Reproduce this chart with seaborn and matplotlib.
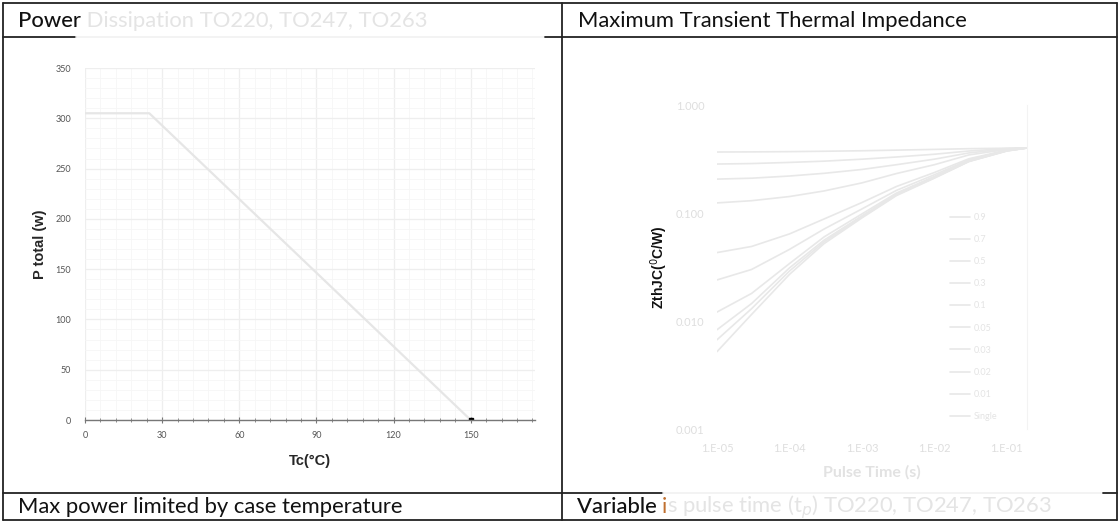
import numpy as np
import pandas as pd
import seaborn as sns
import matplotlib.pyplot as plt
from matplotlib.lines import Line2D
from matplotlib.ticker import MultipleLocator, FixedLocator

sns.set_style("white")
plt.rcParams['font.family'] = ['Lato', 'DejaVu Sans']

# --- left chart: power derating ---
tc = [0, 25, 150]
p_total = [305, 305, 0]
tc_ticks = [0, 30, 60, 90, 120, 150]
p_ticks = [0, 50, 100, 150, 200, 250, 300, 350]

# --- right chart: transient thermal impedance ---
pulse_t = [1e-5, 3e-5, 1e-4, 3e-4, 1e-3, 3e-3, 1e-2, 3e-2, 1e-1, 0.19]
duty = ["0.9", "0.7", "0.5", "0.3", "0.1", "0.05", "0.03", "0.02", "0.01", "Single"]
zth = [
    [0.367, 0.368, 0.370, 0.373, 0.377, 0.382, 0.388, 0.394, 0.398, 0.40],
    [0.284, 0.287, 0.294, 0.302, 0.315, 0.330, 0.350, 0.375, 0.395, 0.40],
    [0.206, 0.210, 0.220, 0.233, 0.253, 0.280, 0.315, 0.360, 0.392, 0.40],
    [0.124, 0.130, 0.142, 0.160, 0.190, 0.232, 0.280, 0.345, 0.388, 0.40],
    [0.043, 0.049, 0.064, 0.088, 0.125, 0.176, 0.237, 0.318, 0.382, 0.40],
    [0.024, 0.030, 0.046, 0.071, 0.109, 0.162, 0.226, 0.310, 0.380, 0.40],
    [0.0121, 0.018, 0.034, 0.060, 0.098, 0.153, 0.218, 0.305, 0.378, 0.40],
    [0.0083, 0.0145, 0.031, 0.056, 0.094, 0.149, 0.214, 0.302, 0.377, 0.40],
    [0.0067, 0.013, 0.029, 0.054, 0.092, 0.147, 0.212, 0.300, 0.376, 0.40],
    [0.0052, 0.0115, 0.027, 0.052, 0.090, 0.145, 0.210, 0.300, 0.375, 0.40],
]
zth_ticks = [0.001, 0.01, 0.1, 1.0]
zth_ticklabels = ["0.001", "0.010", "0.100", "1.000"]
t_ticks = [1e-5, 1e-4, 1e-3, 1e-2, 1e-1]
t_ticklabels = ["1.E-05", "1.E-04", "1.E-03", "1.E-02", "1.E-01"]

W, H = 1120, 523
fig = plt.figure(figsize=(W / 100, H / 100), dpi=100)
renderer = fig.canvas.get_renderer()


def fx(px):
    return px / W


def fy(py):
    return 1 - py / H


# table lines
def hline(y, x0, x1, color="#222222", lw=1.3):
    fig.add_artist(Line2D([fx(x0), fx(x1)], [fy(y), fy(y)], color=color, lw=lw))


def vline(x, y0, y1, color="#222222", lw=1.3):
    fig.add_artist(Line2D([fx(x), fx(x)], [fy(y0), fy(y1)], color=color, lw=lw))


hline(3, 3, 1117)
hline(520, 3, 1117)
vline(3, 3, 520)
vline(1117, 3, 520)
vline(562, 3, 520)
hline(37, 3, 76)
hline(37, 76, 545, color="#f2f2f2")
hline(37, 545, 562)
hline(37, 562, 1117)
hline(493, 3, 562)
hline(493, 562, 663)
hline(493, 663, 1103, color="#f2f2f2")
hline(493, 1103, 1117)


def run_text(x, y, parts, fs):
    # draw text pieces one after another on one baseline
    for s, color, weight in parts:
        t = fig.text(x, y, s, fontsize=fs, color=color, fontweight=weight, va="center")
        x = fig.transFigure.inverted().transform(
            (t.get_window_extent(renderer).x1, 0))[0]


faint = "#e4e4e4"
fs = 15.8
run_text(fx(18), fy(21), [("Power", "#111111", "medium"),
                          (" Dissipation TO220, TO247, TO263", faint, "normal")], fs)
fig.text(fx(578), fy(21), "Maximum Transient Thermal Impedance", fontsize=fs, color="#111111", va="center")
fig.text(fx(18), fy(507), "Max power limited by case temperature", fontsize=fs, color="#111111", va="center")
run_text(fx(577), fy(507), [("Variable ", "#111111", "medium"),
                            ("i", "#c07030", "normal"),
                            ("s pulse time (t$_p$) TO220, TO247, TO263", faint, "normal")], fs)

# ---------------- left chart ----------------
ax1 = fig.add_axes([fx(85), fy(420), fx(535) - fx(85), fy(68) - fy(420)])
sns.lineplot(x=tc, y=p_total, ax=ax1, color="#e6e6e6", lw=1.6)
ax1.plot([150], [0], marker="s", color="black", ms=3)
ax1.set_xlim(0, 175)
ax1.set_ylim(0, 350)
ax1.xaxis.set_major_locator(FixedLocator(tc_ticks))
ax1.yaxis.set_major_locator(FixedLocator(p_ticks))
ax1.xaxis.set_minor_locator(MultipleLocator(6))
ax1.yaxis.set_minor_locator(MultipleLocator(10))
ax1.grid(which="major", color="#eeeeee", lw=0.9)
ax1.grid(which="minor", color="#f6f6f6", lw=0.6)
ax1.set_axisbelow(True)
for s in ["top", "right", "left"]:
    ax1.spines[s].set_visible(False)
ax1.spines["bottom"].set_color("#777777")
ax1.spines["bottom"].set_linewidth(1.0)
ax1.tick_params(axis="x", which="both", direction="inout", length=4, color="#777777",
                labelsize=6.5, labelcolor="#555555", pad=6, bottom=True)
ax1.tick_params(axis="x", which="minor", length=3)
ax1.tick_params(axis="y", which="both", length=0, labelsize=6.5, labelcolor="#555555", pad=10)
ax1.set_xlabel("Tc(°C)", fontsize=10.5, fontweight="bold", family="Liberation Sans", labelpad=10)
ax1.set_ylabel("P total (w)", fontsize=10.5, fontweight="bold", family="Liberation Sans", labelpad=6)

# ---------------- right chart ----------------
rows = []
for d, vals in zip(duty, zth):
    for t, z in zip(pulse_t, vals):
        rows.append({"t": t, "zth": z, "D": d})
df = pd.DataFrame(rows)

ax2 = fig.add_axes([fx(717), fy(429), fx(1027) - fx(717), fy(105) - fy(429)])
sns.lineplot(data=df, x="t", y="zth", hue="D", hue_order=duty,
             palette={d: "#e8e8e8" for d in duty}, lw=1.2, ax=ax2)
ax2.set_xscale("log")
ax2.set_yscale("log")
ax2.set_xlim(1e-5, 0.19)
ax2.set_ylim(0.001, 1.0)
ax2.set_yticks(zth_ticks)
ax2.set_yticklabels(zth_ticklabels)
ax2.set_xticks(t_ticks)
ax2.set_xticklabels(t_ticklabels)
ax2.minorticks_off()
for s in ["top", "left", "bottom"]:
    ax2.spines[s].set_visible(False)
ax2.spines["right"].set_color("#f3f3f3")
ax2.tick_params(axis="both", length=0, labelsize=8, labelcolor="#dedede")
ax2.tick_params(axis="y", pad=9)
ax2.tick_params(axis="x", pad=10)
ax2.set_xlabel("Pulse Time (s)", fontsize=11.5, fontweight="bold", color="#e2e2e2", labelpad=8)
ax2.set_ylabel("ZthJC($^0$C/W)", fontsize=10, fontweight="bold", family="Liberation Sans",
               color="#111111", labelpad=4)
leg = ax2.legend(loc="lower right", bbox_to_anchor=(0.93, 0.0), frameon=False,
                 fontsize=6.5, labelspacing=1.45, handlelength=2.2, handletextpad=0.4)
for txt in leg.get_texts():
    txt.set_color("#e4e4e4")

fig.savefig("out.png", dpi=100, facecolor="white")
